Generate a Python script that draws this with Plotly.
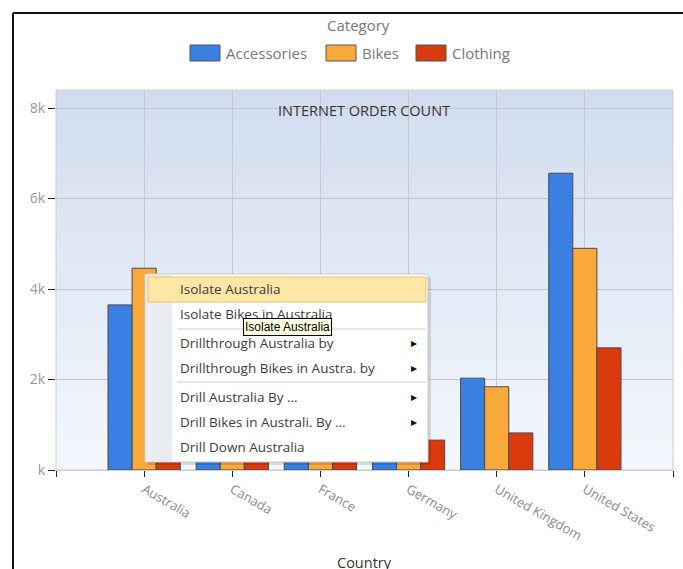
import plotly.graph_objects as go

# ---------------- data ----------------
countries = ["Australia", "Canada", "France", "Germany", "United Kingdom", "United States"]
categories = ["Accessories", "Bikes", "Clothing"]
accessories = [3650, 2600, 1400, 1450, 2030, 6560]
bikes = [4460, 1550, 1350, 1400, 1840, 4900]
clothing = [1250, 1200, 650, 660, 820, 2700]
series = [accessories, bikes, clothing]
colors = ["#3a80e3", "#f9a83a", "#d93a0e"]
y_tickvals = [0, 2000, 4000, 6000, 8000]
y_ticktext = ["k", "2k", "4k", "6k", "8k"]
menu_items = ["Isolate Australia", "Isolate Bikes in Australia",
              "Drillthrough Australia by", "Drillthrough Bikes in Austra. by",
              "Drill Australia By ...", "Drill Bikes in Australi. By ...",
              "Drill Down Australia"]
menu_has_arrow = [False, False, True, True, True, True, False]

W, H = 683, 569
L, R, T, B = 56, 10, 90, 99
PW, PH = W - L - R, H - T - B


def px(xp):
    return (xp - L) / PW


def py(yp):
    return (H - B - yp) / PH


FONT = "Open Sans"
xpos = list(range(len(countries)))

fig = go.Figure()
for name, vals, col in zip(categories, series, colors):
    fig.add_trace(go.Bar(
        x=xpos, y=vals, name=name, showlegend=False,
        marker=dict(color=col, line=dict(color="#4a4a4a", width=1)),
    ))

shapes = []
annotations = []


def note(text, x, y, xanchor="center", size=12, color="#3c3c3c", family=FONT, **kw):
    d = dict(text=text, xref="paper", yref="paper", x=px(x), y=py(y),
             xanchor=xanchor, yanchor="middle", showarrow=False,
             font=dict(family=family, size=size, color=color))
    d.update(kw)
    annotations.append(d)


# gradient plot background (overlapping bands to avoid seams)
n = 40
top_c = (209, 221, 239)
bot_c = (244, 247, 252)
for i in range(n):
    f = i / (n - 1)
    c = tuple(int(round(top_c[k] + (bot_c[k] - top_c[k]) * f)) for k in range(3))
    y1 = 1 - i / n
    y0 = max(0, 1 - (i + 1) / n - 0.01)
    shapes.append(dict(type="rect", xref="paper", yref="paper",
                       x0=0, x1=1, y1=y1, y0=y0,
                       fillcolor="rgb(%d,%d,%d)" % c, line=dict(width=0), layer="below"))
# plot border
shapes.append(dict(type="rect", xref="paper", yref="paper", x0=0, x1=1, y0=0, y1=1,
                   line=dict(color="#c9ced6", width=1), layer="below"))

# outer frame (top and left)
shapes.append(dict(type="line", xref="paper", yref="paper", x0=px(13), x1=px(W + 2),
                   y0=py(13), y1=py(13), line=dict(color="#111", width=2)))
shapes.append(dict(type="line", xref="paper", yref="paper", x0=px(13), x1=px(13),
                   y0=py(13), y1=py(H + 2), line=dict(color="#111", width=2)))

# manual legend
note("Category", 358, 25, size=15, color="#777")
leg_x = [190, 326, 416]
for name, col, lx in zip(categories, colors, leg_x):
    shapes.append(dict(type="rect", xref="paper", yref="paper", x0=px(lx), x1=px(lx + 30),
                       y0=py(61), y1=py(45), fillcolor=col, line=dict(color="#555", width=1)))
    note(name, lx + 34, 53, xanchor="left", size=15, color="#777")

# chart title inside plot
note("INTERNET ORDER COUNT", 364, 111, size=14.5, color="#333")
# x axis title
note("Country", 364, 562, size=14.5, color="#333")

# context menu overlay
mx0, mx1, my0, my1 = 145, 428, 274, 462
shapes.append(dict(type="rect", xref="paper", yref="paper", x0=px(mx0 + 3), x1=px(mx1 + 3),
                   y0=py(my1 + 3), y1=py(my0 + 3), fillcolor="rgba(0,0,0,0.12)",
                   line=dict(width=0), layer="above"))
shapes.append(dict(type="rect", xref="paper", yref="paper", x0=px(mx0), x1=px(mx1),
                   y0=py(my1), y1=py(my0), fillcolor="#ffffff",
                   line=dict(color="#c8c8c8", width=1), layer="above"))
shapes.append(dict(type="rect", xref="paper", yref="paper", x0=px(mx0 + 1), x1=px(172),
                   y0=py(my1 - 1), y1=py(my0 + 1), fillcolor="#e9edf1",
                   line=dict(width=0), layer="above"))
shapes.append(dict(type="rect", xref="paper", yref="paper", x0=px(148), x1=px(426),
                   y0=py(302), y1=py(277), fillcolor="#fde6a6",
                   line=dict(color="#eac46a", width=1), layer="above"))
for sy in [329, 382]:
    shapes.append(dict(type="line", xref="paper", yref="paper", x0=px(177), x1=px(426),
                       y0=py(sy), y1=py(sy), line=dict(color="#cfcfcf", width=1), layer="above"))
item_y = [289, 314, 343, 368, 397, 422, 447]
for txt, iy, arr in zip(menu_items, item_y, menu_has_arrow):
    note(txt, 178, iy, xanchor="left", size=13.5, color="#3c3c3c")
    if arr:
        note("\u25B8", 414, iy, size=12, color="#111", family="DejaVu Sans")
# tooltip
note("Isolate Australia", 287, 327, size=12, color="#000", family="Liberation Sans",
     bgcolor="#ffffe1", bordercolor="#000", borderwidth=1, borderpad=1)

fig.update_layout(
    width=W, height=H,
    margin=dict(l=L, r=R, t=T, b=B),
    paper_bgcolor="white",
    plot_bgcolor="rgba(0,0,0,0)",
    barmode="group", bargap=0.18, bargroupgap=0,
    font=dict(family=FONT, size=12, color="#888"),
    shapes=shapes, annotations=annotations,
    showlegend=False,
    xaxis=dict(range=[-1, len(countries)],
               tickvals=list(range(-1, len(countries) + 1)),
               ticktext=[""] + countries + [""],
               tickangle=30, ticks="outside", ticklen=6, tickcolor="#222",
               showgrid=True, gridcolor="#c8c8c8", gridwidth=1,
               showline=True, linecolor="#c9ced6", zeroline=False,
               tickfont=dict(family=FONT, size=13, color="#8a8a8a"),
               fixedrange=True),
    yaxis=dict(range=[0, 8400], tickvals=y_tickvals, ticktext=y_ticktext,
               ticks="outside", ticklen=7, tickcolor="#222",
               showgrid=True, gridcolor="#c8c8c8", gridwidth=1,
               zeroline=False, showline=False,
               tickfont=dict(family=FONT, size=14, color="#999"),
               fixedrange=True),
)

fig.write_html("out.html")
